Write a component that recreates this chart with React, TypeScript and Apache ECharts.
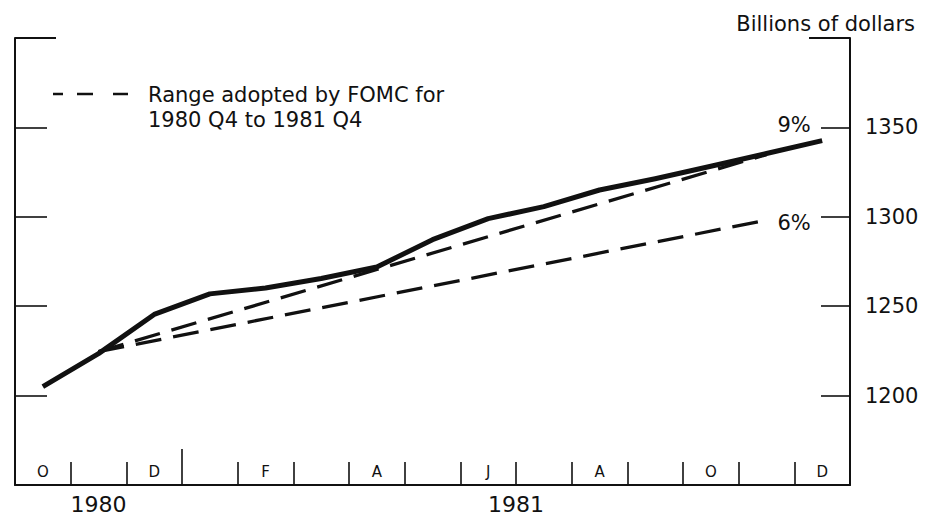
import React, { useEffect, useRef } from "react";
import * as echarts from "echarts";

// Months from October 1980 to December 1981 (one category per month)
const months = ["O", "N", "D", "J", "F", "M", "A", "M", "J", "J", "A", "S", "O", "N", "D"];
// Bank credit, billions of dollars (monthly averages)
const bankCredit = [1205, 1223.5, 1245.4, 1256.9, 1260.2, 1265.5, 1271.9, 1287.2, 1299, 1305.7, 1315, 1321.3, 1328.3, 1335.4, 1342.6];
// FOMC range, 1980 Q4 base (plotted at Nov 1980) to 1981 Q4 (plotted at Nov 1981)
const range9 = [null, 1224.6, null, null, null, null, null, null, null, null, null, null, null, 1334.8];
const range6 = [null, 1224.6, null, null, null, null, null, null, null, null, null, null, null, 1298.1];
const yTickValues = [1200, 1250, 1300, 1350];
const yMin = 1150;
const yMax = 1400;
const years = ["1980", "1981"];
const yearMonths = [3, 12];
const janIndex = 3;

const FONT = "DejaVu Sans";
const INK = "#111";

export default function App() {
  const ref = useRef<HTMLDivElement>(null);

  useEffect(() => {
    if (!ref.current) return;
    const chart = echarts.init(ref.current, undefined, { renderer: "svg" });

    const yearCenters: number[] = [];
    let acc = 0;
    yearMonths.forEach((m) => {
      yearCenters.push(acc + m / 2);
      acc += m;
    });
    const monthBoundaries: number[] = [];
    for (let i = 1; i < months.length; i++) {
      if (i !== janIndex) monthBoundaries.push(i);
    }

    const baseY = {
      type: "value" as const,
      min: yMin,
      max: yMax,
      splitLine: { show: false },
      axisLine: { show: false, onZero: false },
      axisLabel: { show: false },
    };

    chart.setOption({
      animation: false,
      backgroundColor: "#fff",
      textStyle: { fontFamily: FONT, color: INK },
      title: {
        text: "Billions of dollars",
        right: 6,
        top: 8,
        textStyle: { fontFamily: FONT, fontSize: 21, fontWeight: "normal", color: INK },
      },
      grid: { left: 15, right: 76, top: 38, bottom: 28, containLabel: false },
      xAxis: [
        {
          type: "category",
          data: months,
          boundaryGap: true,
          position: "bottom",
          axisLine: { show: true, onZero: false, lineStyle: { color: INK, width: 2 } },
          axisTick: { show: false },
          axisLabel: {
            show: true,
            inside: true,
            margin: 6,
            interval: (i: number) => i % 2 === 0,
            fontFamily: FONT,
            fontSize: 15,
            color: INK,
          },
          splitLine: { show: false },
        },
        {
          type: "value",
          min: 0,
          max: months.length,
          position: "bottom",
          axisLine: { show: false, onZero: false },
          axisTick: {
            show: true,
            inside: true,
            length: 23,
            customValues: monthBoundaries,
            lineStyle: { color: INK, width: 1.6 },
          },
          axisLabel: { show: false },
          splitLine: { show: false },
        },
        {
          type: "value",
          min: 0,
          max: months.length,
          position: "bottom",
          axisLine: { show: false, onZero: false },
          axisTick: {
            show: true,
            inside: true,
            length: 36,
            customValues: [janIndex],
            lineStyle: { color: INK, width: 1.6 },
          },
          splitLine: { show: false },
          axisLabel: {
            show: true,
            customValues: yearCenters,
            margin: 8,
            fontFamily: FONT,
            fontSize: 22,
            color: INK,
            formatter: (v: number) => {
              const k = yearCenters.findIndex((c) => Math.abs(c - v) < 1e-6);
              return k >= 0 ? years[k] : "";
            },
          },
        },
      ],
      yAxis: [
        {
          ...baseY,
          position: "left",
          axisLine: { show: true, onZero: false, lineStyle: { color: INK, width: 2 } },
          axisTick: { show: true, inside: true, length: 32, customValues: yTickValues, lineStyle: { color: INK, width: 1.6 } },
        },
        {
          ...baseY,
          position: "right",
          axisLine: { show: true, onZero: false, lineStyle: { color: INK, width: 2 } },
          axisTick: { show: true, inside: true, length: 29, customValues: yTickValues, lineStyle: { color: INK, width: 1.6 } },
          axisLabel: {
            show: true,
            customValues: yTickValues,
            margin: 15,
            fontFamily: FONT,
            fontSize: 21,
            color: INK,
            formatter: (v: number) => String(v),
          },
        },
        {
          ...baseY,
          position: "left",
          axisTick: { show: true, inside: true, length: 41, customValues: [yMax], lineStyle: { color: INK, width: 2 } },
        },
        {
          ...baseY,
          position: "right",
          axisTick: { show: true, inside: true, length: 41, customValues: [yMax], lineStyle: { color: INK, width: 2 } },
        },
      ],
      series: [
        {
          name: "9%",
          type: "line",
          data: range9,
          connectNulls: true,
          symbol: "none",
          z: 2,
          lineStyle: { color: INK, width: 3.3, type: [26, 12] },
          endLabel: {
            show: true,
            formatter: "9%",
            offset: [3, -30],
            fontFamily: FONT,
            fontSize: 21,
            color: INK,
          },
        },
        {
          name: "6%",
          type: "line",
          data: range6,
          connectNulls: true,
          symbol: "none",
          z: 2,
          lineStyle: { color: INK, width: 3.3, type: [26, 12] },
          endLabel: {
            show: true,
            formatter: "6%",
            offset: [3, 3],
            fontFamily: FONT,
            fontSize: 21,
            color: INK,
          },
        },
        {
          name: "Bank credit",
          type: "line",
          data: bankCredit,
          symbol: "none",
          z: 3,
          lineStyle: { color: INK, width: 5, join: "round" },
        },
      ],
      graphic: [
        { type: "line", shape: { x1: 53, y1: 94, x2: 63, y2: 94 }, style: { stroke: INK, lineWidth: 2.5 } },
        { type: "line", shape: { x1: 77, y1: 94, x2: 93, y2: 94 }, style: { stroke: INK, lineWidth: 2.5 } },
        { type: "line", shape: { x1: 113, y1: 94, x2: 128, y2: 94 }, style: { stroke: INK, lineWidth: 2.5 } },
        {
          type: "text",
          x: 148,
          y: 82,
          style: {
            text: "Range adopted by FOMC for\n1980 Q4 to 1981 Q4",
            fontFamily: FONT,
            fontSize: 21,
            lineHeight: 25,
            fill: INK,
          },
        },
      ],
    });

    return () => chart.dispose();
  }, []);

  return (
    <div
      ref={ref}
      style={{ position: "fixed", left: 0, top: 0, width: 926, height: 515, background: "#fff" }}
    />
  );
}
